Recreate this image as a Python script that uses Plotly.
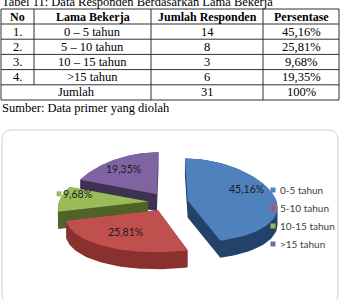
import numpy as np
import plotly.graph_objects as go

# ---------------- data ----------------
table_no = ["1.", "2.", "3.", "4."]
table_categories = ["0 – 5 tahun", "5 – 10 tahun", "10 – 15 tahun", ">15 tahun"]
legend_labels = ["0-5 tahun", "5-10 tahun", "10-15 tahun", ">15 tahun"]
counts = [14, 8, 3, 6]
headers = ["No", "Lama Bekerja", "Jumlah Responden", "Persentase"]
caption = "Tabel 11: Data Responden Berdasarkan Lama Bekerja"
source = "Sumber: Data primer yang diolah"
total_label = "Jumlah"

# ---------------- styles ----------------
top_colors = ["#4F81BD", "#C0504D", "#9BBB59", "#8064A2"]
side_colors = ["#24416A", "#8A302E", "#4F6228", "#3F3151"]
serif = "Liberation Serif"
sans = "Lato"

W, H = 342, 300
fig = go.Figure()

def pct(v, tot):
    return f"{100 * v / tot:.2f}".replace(".", ",") + "%"

total = sum(counts)
shares = [c / total for c in counts]

# ---------------- table ----------------
col_x = [1, 34, 151, 263, 339]
row_y = [9, 24] + [24 + 15.2 * (i + 1) for i in range(5)]
line_col = "#303030"
for yy in row_y:
    fig.add_shape(type="line", x0=col_x[0], x1=col_x[-1], y0=yy, y1=yy,
                  line=dict(color=line_col, width=1), xref="x", yref="y")
for i, xx in enumerate(col_x):
    y_end = row_y[-1] if i != 1 else row_y[-2]
    fig.add_shape(type="line", x0=xx, x1=xx, y0=row_y[0], y1=y_end,
                  line=dict(color=line_col, width=1), xref="x", yref="y")

def txt(x, y, s, size=12.5, family=serif, color="black", xanchor="center"):
    fig.add_annotation(x=x, y=y, text=s, showarrow=False, xref="x", yref="y",
                       xanchor=xanchor, yanchor="middle",
                       font=dict(family=family, size=size, color=color))

centers = [(col_x[i] + col_x[i + 1]) / 2 for i in range(4)]
hy = (row_y[0] + row_y[1]) / 2
for c, h in zip(centers, headers):
    txt(c, hy, f"<b>{h}</b>", size=12)
for r in range(4):
    yy = (row_y[r + 1] + row_y[r + 2]) / 2
    txt(centers[0], yy, table_no[r])
    txt(centers[1], yy, table_categories[r])
    txt(centers[2], yy, str(counts[r]))
    txt(centers[3], yy, pct(counts[r], total))
yy = (row_y[5] + row_y[6]) / 2
txt((col_x[0] + col_x[2]) / 2, yy, total_label)
txt(centers[2], yy, str(total))
txt(centers[3], yy, "100%")

txt(0, 1.5, caption, xanchor="left")
txt(0, 108, source, xanchor="left")

# ---------------- chart box ----------------
bx0, by0, bx1, by1, rad = 2, 130, 338, 304, 10
path = (f"M {bx0+rad},{by0} L {bx1-rad},{by0} Q {bx1},{by0} {bx1},{by0+rad} "
        f"L {bx1},{by1-rad} Q {bx1},{by1} {bx1-rad},{by1} L {bx0+rad},{by1} "
        f"Q {bx0},{by1} {bx0},{by1-rad} L {bx0},{by0+rad} Q {bx0},{by0} {bx0+rad},{by0} Z")
fig.add_shape(type="path", path=path, line=dict(color="#D0D0D0", width=1),
              fillcolor="rgba(0,0,0,0)", xref="x", yref="y")

# ---------------- 3D pie ----------------
cx, cy, a, b, depth = 168, 202, 89, 42, 17
explode = 20
persp = 0.14

def proj(theta, r, mid):
    ex = explode * np.sin(mid)
    ey = -explode * (b / a) * np.cos(mid)
    x = a * r * np.sin(theta) + ex
    y = -b * r * np.cos(theta) + ey
    s = 1 + persp * y / b
    return cx + x * s, cy + y

def hull(pts):
    pts = sorted(set(pts))
    def cross(o, p, q):
        return (p[0]-o[0])*(q[1]-o[1]) - (p[1]-o[1])*(q[0]-o[0])
    lower, upper = [], []
    for p in pts:
        while len(lower) >= 2 and cross(lower[-2], lower[-1], p) <= 0:
            lower.pop()
        lower.append(p)
    for p in reversed(pts):
        while len(upper) >= 2 and cross(upper[-2], upper[-1], p) <= 0:
            upper.pop()
        upper.append(p)
    return lower[:-1] + upper[:-1]

cum = np.concatenate([[0], np.cumsum(shares)])
slices = []
for i in range(4):
    t0, t1 = 2 * np.pi * cum[i], 2 * np.pi * cum[i + 1]
    mid = (t0 + t1) / 2
    th = np.linspace(t0, t1, 60)
    vx, vy = proj(0.0, 0.0, mid)
    ax_, ay_ = proj(th, 1.0, mid)
    topx = np.concatenate([[vx], ax_, [vx]])
    topy = np.concatenate([[vy], ay_, [vy]])
    slices.append((i, mid, topx, topy))

order = [3, 2, 0, 1]
for i in order:
    _, mid, topx, topy = slices[i]
    pts = [(round(float(x), 3), round(float(y), 3)) for x, y in zip(topx, topy)]
    pts += [(x, round(y + depth, 3)) for x, y in pts]
    hp = hull(pts)
    hx = [p[0] for p in hp] + [hp[0][0]]
    hy2 = [p[1] for p in hp] + [hp[0][1]]
    fig.add_trace(go.Scatter(x=hx, y=hy2, mode="lines", fill="toself",
                             fillcolor=side_colors[i], line=dict(width=0, color=side_colors[i]),
                             hoverinfo="skip", showlegend=False))
    fig.add_trace(go.Scatter(x=topx, y=topy, mode="lines", fill="toself",
                             fillcolor=top_colors[i], line=dict(width=0, color=top_colors[i]),
                             hoverinfo="skip", showlegend=False))

# data labels
label_r = [0.68, 0.66, 0.8, 0.75]
label_dy = [-7, -2, -6, 1]
for i in range(4):
    _, mid, _, _ = slices[i]
    lx, ly = proj(mid, label_r[i], mid)
    ly += label_dy[i]
    txt(lx, ly, pct(counts[i], total), size=10.5, family=sans, color="#1A1A1A")
    if i == 2:
        fig.add_shape(type="rect", x0=lx - 21, x1=lx - 16, y0=ly - 2.5, y1=ly + 2.5,
                      fillcolor=top_colors[i], line=dict(width=0), xref="x", yref="y")

# legend
lgx, lgy0, lgdy = 273, 190, 18
for i, lab in enumerate(legend_labels):
    y = lgy0 + i * lgdy
    fig.add_shape(type="rect", x0=lgx - 2.5, x1=lgx + 2.5, y0=y - 2.5, y1=y + 2.5,
                  fillcolor=top_colors[i], line=dict(width=0), xref="x", yref="y")
    txt(lgx + 5, y, lab, size=10, family=sans, color="#404040", xanchor="left")

fig.update_layout(
    width=W, height=H, margin=dict(l=0, r=0, t=0, b=0),
    paper_bgcolor="white", plot_bgcolor="white", showlegend=False,
    xaxis=dict(range=[0, W], visible=False, fixedrange=True),
    yaxis=dict(range=[H, 0], visible=False, fixedrange=True),
)
fig.write_html("out.html")
